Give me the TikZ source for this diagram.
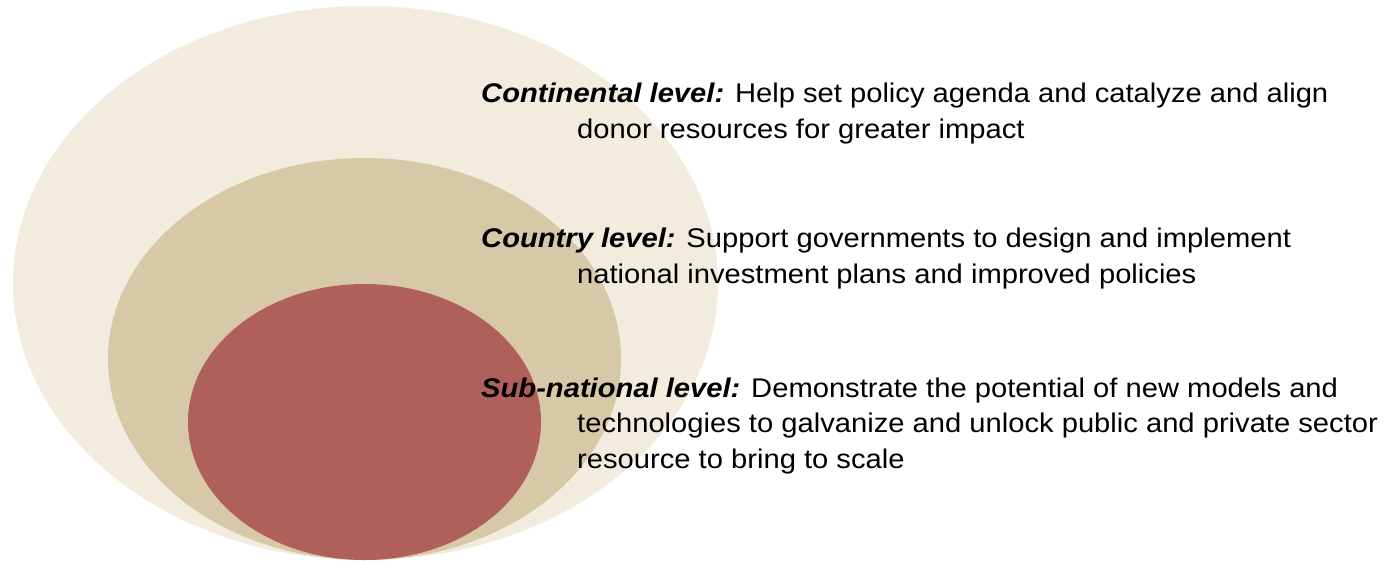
\documentclass[tikz,border=0pt]{standalone}
\usepackage{fontspec}
\setmainfont[FakeStretch=1.08]{Liberation Sans}
\usetikzlibrary{shapes.geometric}
\usetikzlibrary{positioning}

\definecolor{outerring}{HTML}{F1ECDD}
\definecolor{middlering}{HTML}{D7C8A7}
\definecolor{innerring}{HTML}{B0605A}

\tikzset{
    ring/.style={ellipse, draw=none, inner sep=0pt, outer sep=0pt},
    levelnote/.style={anchor=base west, inner sep=0pt, align=left,
        font=\fontsize{27}{35.5}\selectfont}
}
\newcommand{\levelname}[1]{{\bfseries\itshape #1}}
\newcommand{\contline}{\hspace*{96pt}}

\begin{document}
\begin{tikzpicture}[x=1pt, y=-1pt]
\useasboundingbox (0,0) rectangle (1387,560);
\clip (0,0) rectangle (1387,560);

% nested levels
\node[ring, fill=outerring, minimum width=705pt, minimum height=554pt] (continental) at (365.5, 283) {};
\node[ring, fill=middlering, minimum width=513pt, minimum height=402pt] (country) at (364.5, 359) {};
\node[ring, fill=innerring, minimum width=353pt, minimum height=276pt] (subnational) at (364.5, 422) {};

% descriptions (placed by the baseline of their last line)
\node[levelnote] (ca) at (481, 138) {\levelname{Continental level:} Help set policy agenda and catalyze and align\\
\contline donor resources for greater impact};
\node[levelnote] (cb) at (481, 283) {\levelname{Country level:} Support governments to design and implement\\
\contline national investment plans and improved policies};
\node[levelnote] (cc) at (481, 468) {\levelname{Sub-national level:} Demonstrate the potential of new models and\\
\contline technologies to galvanize and unlock public and private sector\\
\contline resource to bring to scale};

\end{tikzpicture}
\end{document}
